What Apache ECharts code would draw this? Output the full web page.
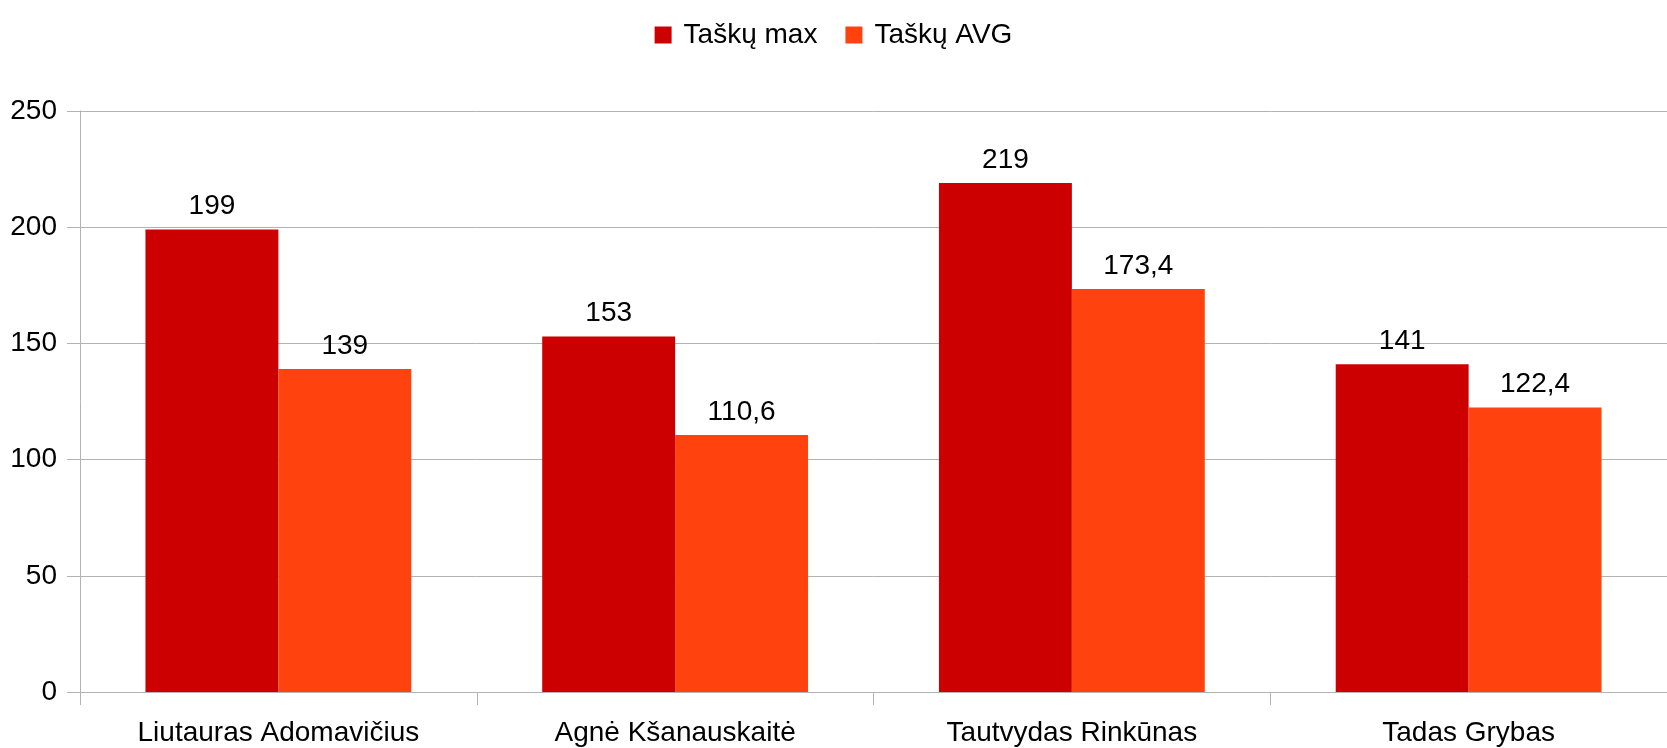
<!DOCTYPE html>
<html>
<head>
<meta charset="utf-8">
<title>Taškai</title>
<script src="https://cdn.jsdelivr.net/npm/echarts@6/dist/echarts.min.js"></script>
<style>
  html, body { margin: 0; padding: 0; background: #fff; }
  #chart { width: 1667px; height: 748px; }
</style>
</head>
<body>
<div id="chart"></div>
<script>
var names = ['Liutauras Adomavičius', 'Agnė Kšanauskaitė', 'Tautvydas Rinkūnas', 'Tadas Grybas']
var maxPoints = [199, 153, 219, 141]
var avgPoints = [139, 110.6, 173.4, 122.4]
var yTicks = [0, 50, 100, 150, 200, 250]

var font = 'Liberation Sans, Arial, sans-serif'
var lineColor = '#b3b3b3'

function commaLabel(p) {
  return String(p.value).replace('.', ',')
}

var chart = echarts.init(document.getElementById('chart'))

chart.setOption({
  animation: false,
  textStyle: { fontFamily: font, color: '#000' },
  legend: {
    top: 16,
    left: 'center',
    itemWidth: 17,
    itemHeight: 17,
    itemGap: 28,
    icon: 'rect',
    textStyle: { fontSize: 28, color: '#000', fontFamily: font, padding: [0, 0, 0, 7] },
    data: ['Taškų max', 'Taškų AVG']
  },
  grid: {
    left: 80,
    right: -5,
    top: 111,
    bottom: 56,
    containLabel: false
  },
  xAxis: {
    type: 'category',
    data: names,
    axisLine: { lineStyle: { color: lineColor, width: 1 } },
    axisTick: { show: true, length: 13, lineStyle: { color: lineColor } },
    axisLabel: { fontSize: 28, color: '#000', fontFamily: font, margin: 27 }
  },
  yAxis: {
    type: 'value',
    min: yTicks[0],
    max: yTicks[yTicks.length - 1],
    interval: 50,
    axisLine: { show: true, lineStyle: { color: lineColor, width: 1 } },
    axisTick: { show: true, length: 13, lineStyle: { color: lineColor } },
    axisLabel: { fontSize: 28, color: '#000', fontFamily: font, margin: 23 },
    splitLine: { lineStyle: { color: lineColor, width: 1 } }
  },
  series: [
    {
      name: 'Taškų max',
      type: 'bar',
      data: maxPoints,
      barGap: '0%',
      barCategoryGap: '33%',
      itemStyle: { color: '#cc0000' },
      label: {
        show: true,
        position: 'top',
        distance: 9,
        fontSize: 28,
        color: '#000',
        fontFamily: font,
        formatter: commaLabel
      }
    },
    {
      name: 'Taškų AVG',
      type: 'bar',
      data: avgPoints,
      barGap: '0%',
      barCategoryGap: '33%',
      itemStyle: { color: '#ff420e' },
      label: {
        show: true,
        position: 'top',
        distance: 9,
        fontSize: 28,
        color: '#000',
        fontFamily: font,
        formatter: commaLabel
      }
    }
  ]
})
</script>
</body>
</html>
